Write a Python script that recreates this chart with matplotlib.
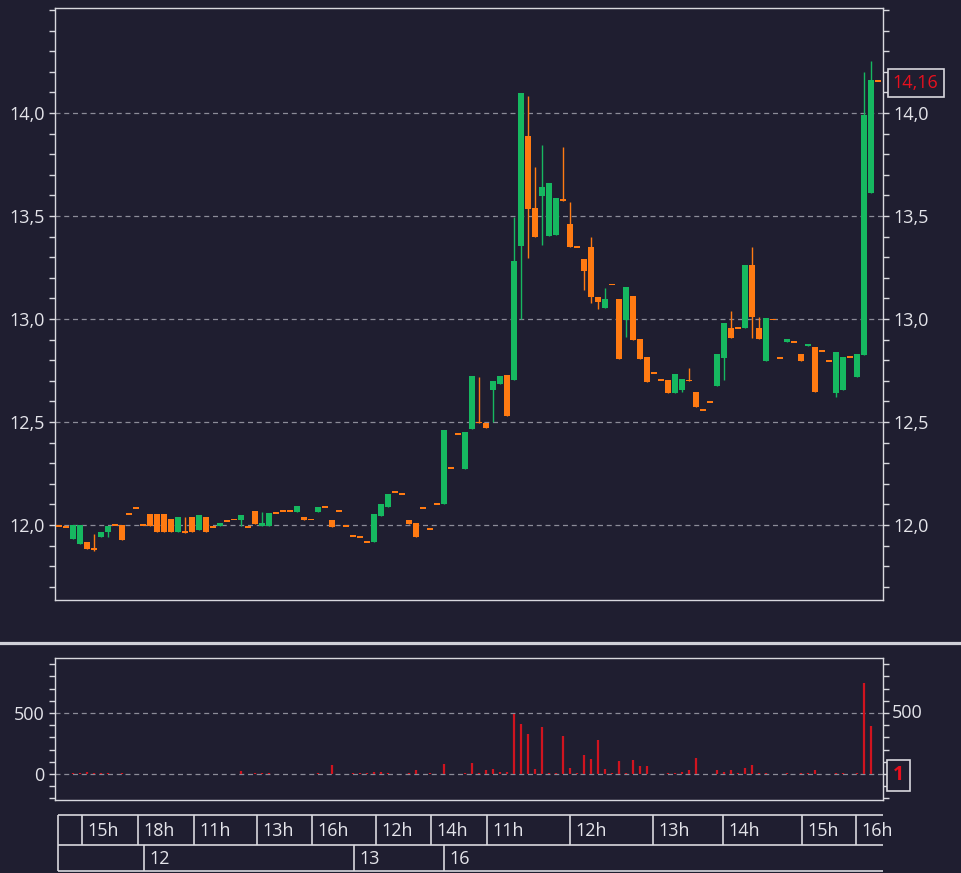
import numpy as np
import matplotlib
matplotlib.use("Agg")
import matplotlib.pyplot as plt
from matplotlib.lines import Line2D

plt.rcParams['font.family'] = ['Open Sans', 'DejaVu Sans']

# fiyat verileri (mum grafik) - sira numarasina gore
opens = [
    11.995, 11.99, 11.93, 11.91, 11.916, 11.89, 11.94, 11.964, 12.00, 12.00,
    12.052, 12.082, 12.00, 12.053, 12.053, 12.053, 12.027, 11.964, 11.968, 12.04,
    11.976, 12.04, 11.99, 11.997, 12.021, 12.027, 12.024, 11.99, 12.07, 11.997,
    11.997, 12.057, 12.07, 12.07, 12.064, 12.04, 12.027, 12.065, 12.089, 12.024,
    12.07, 11.997, 11.948, 11.94, 11.919, 11.916, 12.045, 12.086, 12.162, 12.149,
    12.024, 12.011, 12.081, 11.979, 12.10, 12.10, 12.275, 12.44, 12.272, 12.466,
    12.502, 12.494, 12.655, 12.685, 12.728, 12.704, 13.354, 13.888, 13.54, 13.597,
    13.403, 13.41, 13.58, 13.461, 13.351, 13.291, 13.351, 13.108, 13.052, 13.168,
    13.097, 12.995, 13.113, 12.903, 12.817, 12.736, 12.704, 12.704, 12.642, 12.655,
    12.703, 12.647, 12.56, 12.599, 12.675, 12.809, 12.958, 12.958, 12.955, 13.262,
    12.958, 12.796, 12.998, 12.812, 12.887, 12.888, 12.83, 12.869, 12.862, 12.846,
    12.798, 12.642, 12.655, 12.817, 12.717, 12.825, 13.613, 14.157]

closes = [
    11.995, 11.99, 12.00, 12.00, 11.884, 11.878, 11.964, 11.997, 12.00, 11.927,
    12.052, 12.082, 12.00, 11.997, 11.964, 11.964, 11.964, 12.04, 11.962, 11.964,
    12.05, 11.964, 11.99, 12.011, 12.021, 12.027, 12.05, 11.99, 12.005, 12.011,
    12.06, 12.057, 12.07, 12.07, 12.09, 12.024, 12.027, 12.089, 12.089, 11.99,
    12.07, 11.997, 11.948, 11.94, 11.919, 12.052, 12.10, 12.15, 12.162, 12.149,
    12.005, 11.943, 12.081, 11.979, 12.10, 12.461, 12.275, 12.44, 12.45, 12.725,
    12.494, 12.473, 12.70, 12.723, 12.529, 13.281, 14.099, 13.534, 13.396, 13.639,
    13.662, 13.59, 13.574, 13.351, 13.351, 13.233, 13.105, 13.084, 13.097, 13.168,
    12.806, 13.157, 12.898, 12.806, 12.696, 12.736, 12.704, 12.642, 12.731, 12.707,
    12.70, 12.575, 12.56, 12.599, 12.828, 12.982, 12.906, 12.958, 13.262, 13.008,
    12.901, 13.003, 12.998, 12.812, 12.903, 12.888, 12.796, 12.879, 12.644, 12.846,
    12.798, 12.841, 12.817, 12.817, 12.828, 13.99, 14.16, 14.157]

highs = [
    11.995, 11.99, 12.00, 12.00, 11.916, 11.955, 11.964, 11.997, 12.00, 12.00,
    12.052, 12.082, 12.00, 12.053, 12.053, 12.053, 12.027, 12.04, 12.037, 12.04,
    12.05, 12.04, 11.99, 12.011, 12.021, 12.027, 12.05, 11.99, 12.07, 12.064,
    12.06, 12.057, 12.07, 12.07, 12.09, 12.04, 12.027, 12.089, 12.089, 12.024,
    12.07, 11.997, 11.948, 11.94, 11.919, 12.052, 12.10, 12.15, 12.162, 12.149,
    12.024, 12.011, 12.081, 11.979, 12.10, 12.461, 12.275, 12.44, 12.45, 12.725,
    12.717, 12.494, 12.70, 12.723, 12.728, 13.497, 14.099, 14.082, 13.736, 13.845,
    13.662, 13.59, 13.833, 13.569, 13.351, 13.291, 13.396, 13.108, 13.152, 13.168,
    13.097, 13.157, 13.113, 12.903, 12.817, 12.736, 12.704, 12.704, 12.731, 12.707,
    12.764, 12.647, 12.56, 12.599, 12.828, 12.982, 13.039, 12.958, 13.262, 13.348,
    13.008, 13.003, 12.998, 12.812, 12.903, 12.888, 12.83, 12.879, 12.862, 12.846,
    12.798, 12.841, 12.817, 12.817, 12.828, 14.20, 14.253, 14.157]

lows = [
    11.995, 11.99, 11.93, 11.91, 11.884, 11.875, 11.94, 11.943, 12.00, 11.927,
    12.052, 12.082, 12.00, 11.997, 11.964, 11.964, 11.964, 11.964, 11.962, 11.964,
    11.976, 11.964, 11.99, 11.997, 12.021, 12.027, 11.997, 11.99, 12.005, 11.997,
    11.997, 12.057, 12.07, 12.07, 12.064, 12.024, 12.027, 12.065, 12.089, 11.99,
    12.07, 11.997, 11.948, 11.94, 11.919, 11.916, 12.045, 12.086, 12.162, 12.149,
    12.005, 11.943, 12.081, 11.979, 12.10, 12.10, 12.275, 12.44, 12.272, 12.466,
    12.494, 12.473, 12.502, 12.685, 12.529, 12.704, 12.998, 13.298, 13.396, 13.359,
    13.403, 13.41, 13.574, 13.351, 13.351, 13.14, 13.08, 13.048, 13.052, 13.168,
    12.806, 12.911, 12.898, 12.806, 12.696, 12.736, 12.704, 12.642, 12.642, 12.647,
    12.70, 12.575, 12.56, 12.599, 12.675, 12.704, 12.906, 12.958, 12.955, 12.906,
    12.901, 12.796, 12.998, 12.812, 12.887, 12.888, 12.796, 12.869, 12.644, 12.846,
    12.798, 12.62, 12.655, 12.817, 12.717, 12.825, 13.613, 14.157]

# islem hacmi
volumes = [
    3, 3, 8, 12, 15, 12, 10, 12, 3, 5,
    2, 2, 2, 4, 4, 4, 4, 4, 3, 4,
    4, 4, 2, 3, 2, 2, 27, 2, 8, 8,
    5, 2, 2, 2, 4, 3, 2, 8, 2, 74,
    2, 2, 5, 5, 8, 19, 19, 8, 2, 3,
    5, 33, 2, 8, 3, 82, 3, 3, 8, 93,
    12, 30, 41, 14, 14, 489, 410, 328, 41, 388,
    10, 11, 311, 49, 5, 156, 126, 279, 38, 5,
    104, 8, 115, 66, 66, 3, 3, 8, 10, 16,
    33, 134, 3, 3, 33, 16, 33, 5, 52, 74,
    10, 8, 3, 3, 5, 3, 8, 5, 30, 3,
    3, 8, 8, 3, 8, 743, 393, 1]

# eksen etiketleri
price_ticks = [12.0, 12.5, 13.0, 13.5, 14.0]
price_labels = ["12,0", "12,5", "13,0", "13,5", "14,0"]
vol_ticks = [0, 500]
vol_labels = ["0", "500"]
last_price = "14,16"
last_volume = "1"

# zaman tablosu (saat ve gun hucrelerinin baslangici, mum sirasi cinsinden)
hour_edges = [3.26, 11.26, 19.24, 28.26, 36.17, 45.26, 53.1, 61.1, 73.0, 84.9, 94.9, 106.1, 113.9]
hour_labels = ["15h", "18h", "11h", "13h", "16h", "12h", "14h", "11h", "12h", "13h", "14h", "15h", "16h"]
day_edges = [12.14, 42.14, 55.0]
day_labels = ["12", "13", "16"]

bg = "#1f1e30"
green = "#16b860"
orange = "#ff7a12"
red = "#d0141f"
txt = "#e4e4ea"
frame = "#d8d8de"
grid = "#8c8c98"

o = np.array(opens)
c = np.array(closes)
h = np.array(highs)
l = np.array(lows)
v = np.array(volumes)
x = np.arange(len(o))
colors = np.where(c > o, green, orange)

xmin, xmax = -0.571, 117.714

fig = plt.figure(figsize=(9.61, 8.73), dpi=100, facecolor=bg)
ax = fig.add_axes([55/961, 1-600/873, 828/961, 592/873], facecolor=bg)
axv = fig.add_axes([55/961, 1-800/873, 828/961, 142/873], facecolor=bg)
axt = fig.add_axes([55/961, 0, 828/961, 61/873])
axt.axis("off")

# mumlar
ax.vlines(x, l, h, colors=colors, lw=1, zorder=3)
minh = 0.009
body_bot = np.minimum(o, c)
body_h = np.abs(c - o)
small = body_h < minh
body_bot = np.where(small, (o + c) / 2 - minh / 2, body_bot)
body_h = np.where(small, minh, body_h)
ax.bar(x, body_h, bottom=body_bot, width=0.72, color=colors, linewidth=0, zorder=4)

ax.set_xlim(xmin, xmax)
ax.set_ylim(11.636, 14.51)

# hacim cubuklari
axv.vlines(x, 0, v, colors=red, lw=1.6, zorder=3)
axv.set_xlim(xmin, xmax)
axv.set_ylim(-213, 951)


def style(a, ticks, labels, minor_step):
    a.set_yticks(ticks)
    a.set_yticklabels(labels)
    lo, hi = a.get_ylim()
    a.set_yticks(np.arange(np.ceil(lo / minor_step) * minor_step, hi, minor_step), minor=True)
    a.set_xticks([])
    a.tick_params(axis="y", which="both", left=True, right=True, labelleft=True, labelright=True,
                  direction="out", length=4.5, width=1, color=frame, labelcolor=txt,
                  labelsize=13, pad=3)
    for s in a.spines.values():
        s.set_color(frame)
        s.set_linewidth(1)
    a.grid(axis="y", which="major", color=grid, linestyle=(0, (4, 3)), lw=0.9)
    a.set_axisbelow(True)


style(ax, price_ticks, price_labels, 0.1)
style(axv, vol_ticks, vol_labels, 100)

# sagdaki 0 etiketi kutunun altinda kaliyor, sadece 500 yaziliyor
axv.yaxis.set_tick_params(labelright=False)
axv.annotate(vol_labels[1], xy=(1, vol_ticks[1]), xycoords=("axes fraction", "data"),
             xytext=(6.5, 0), textcoords="offset points", va="center", ha="left",
             color=txt, fontsize=13)

# son fiyat ve son hacim kutulari
ax.annotate(last_price, xy=(1, float(last_price.replace(",", "."))), xycoords=("axes fraction", "data"),
            xytext=(7, -2), textcoords="offset points", va="center", ha="left",
            color="#e8101e", fontsize=13,
            bbox=dict(boxstyle="square,pad=0.28", fc=bg, ec=frame, lw=1.2), annotation_clip=False)
axv.annotate(last_volume, xy=(1, 0), xycoords=("axes fraction", "data"),
             xytext=(7, -1), textcoords="offset points", va="center", ha="left",
             color="#e8101e", fontsize=14, fontweight="bold",
             bbox=dict(boxstyle="square,pad=0.3", fc=bg, ec=frame, lw=1.2),
             annotation_clip=False)

# ayirici cizgi
fig.add_artist(Line2D([0, 1], [1-643/873, 1-643/873], transform=fig.transFigure, color="#d0d0d8", lw=2.3))

# zaman tablosu
axt.set_xlim(xmin, xmax)
axt.set_ylim(873, 812)
left = -0.11
axt.hlines([815, 845, 871.5], left, xmax, colors=frame, lw=1.2)
axt.vlines([left] + hour_edges, 815, 845, colors=frame, lw=1.2)
axt.vlines([left] + day_edges, 845, 871.5, colors=frame, lw=1.2)
for e, t in zip(hour_edges, hour_labels):
    axt.text(e + 0.75, 831, t, color=txt, fontsize=13, va="center", ha="left")
for e, t in zip(day_edges, day_labels):
    axt.text(e + 0.75, 859, t, color=txt, fontsize=13, va="center", ha="left")

fig.savefig("out.png", dpi=100, facecolor=bg)
